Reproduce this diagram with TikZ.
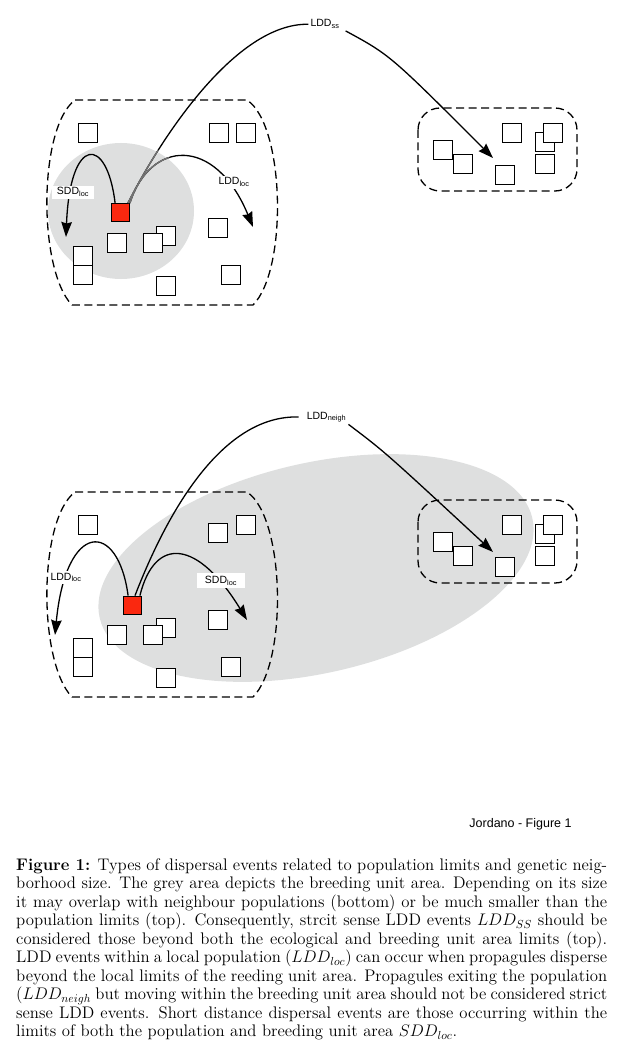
\documentclass[tikz,border=0pt]{standalone}
\usepackage{fontspec}
\usepackage{tikz}
\usetikzlibrary{arrows.meta}
\newfontfamily\labelfont{Liberation Sans}
\definecolor{breedgrey}{RGB}{222,223,223}
\definecolor{seedred}{RGB}{250,40,15}
\tikzset{
    plant/.style = {draw, fill=white, line width=0.8pt, minimum size=19pt, inner sep=0pt},
    mother/.style = {plant, fill=seedred, minimum size=18pt},
    pop-limit/.style = {line width=1.3pt, dash pattern=on 8pt off 4.5pt},
    dispersal/.style = {line width=1.3pt},
    dispersal-end/.style = {dispersal, -{Stealth[length=15pt, width=10.5pt, inset=1.5pt]}},
    event-label/.style = {fill=white, inner sep=2pt, font=\labelfont\fontsize{10.5}{12}\selectfont},
}

\begin{document}
\begin{tikzpicture}[x=1pt, y=-1pt]
\useasboundingbox (0,0) rectangle (624,1059);

% breeding unit areas
\fill[breedgrey] (121,211) ellipse [x radius=73pt, y radius=68pt];
\fill[breedgrey] (316,568) ellipse [x radius=222pt, y radius=105pt, rotate=13];

% population limits, top and bottom
\foreach \dy in {0,392} {
    \draw[pop-limit] (75,100+\dy) -- (247,100+\dy) .. controls (285,125+\dy) and (288,270+\dy) .. (253,305+\dy)
        -- (72,305+\dy) .. controls (38,270+\dy) and (38,128+\dy) .. cycle;
    \draw[pop-limit, rounded corners=22pt] (418,108+\dy) rectangle (577,191+\dy);
}

% individuals
\foreach \dy/\panel in {0/t,392/b} {
    \foreach \x/\y [count=\i] in {88/133, 246/133, 117/243, 166/236, 153/243, 218/228, 83/256, 83/275,
            166/286, 231/275, 443/150, 463/164, 512/133, 505/175, 545/142, 553/133, 545/164}
        \node[plant] (\panel\i) at (\x,\y+\dy) {};
}
\node[plant] (t18) at (219,133) {};
\node[plant] (b18) at (218,533) {};

\node[mother] (m1) at (120.5,212.5) {};
\node[mother] (m2) at (132.5,605) {};

% top: dispersal within the population
\coordinate (sdd-t-end) at (66,237);
\coordinate (ldd-t-end) at (253,227);
\draw[dispersal-end] ([xshift=4pt]m1.north west) .. controls (107,135) and (70,135) .. (sdd-t-end);
\draw[dispersal-end] (m1.north east) .. controls (150,140) and (215,135) .. (ldd-t-end);

% bottom: dispersal within the population
\coordinate (ldd-b-end) at (55,635);
\coordinate (sdd-b-end) at (247,620);
\draw[dispersal-end] ([xshift=5pt]m2.north west) .. controls (118,520) and (66,520) .. (ldd-b-end);
\draw[dispersal-end] ([xshift=-2pt]m2.north east) .. controls (155,535) and (198,540) .. (sdd-b-end);

% labels
\node[event-label, anchor=base] (ss) at (325,27) {LDD\textsubscript{ss}};
\node[event-label, anchor=base, inner xsep=5pt] (sdd-t) at (73,195) {SDD\textsubscript{loc}};
\node[event-label, anchor=base] (ldd-t) at (234,185) {LDD\textsubscript{loc}};
\node[event-label, anchor=base] (ng) at (326.5,419) {LDD\textsubscript{neigh}};
\node[event-label, anchor=base] (ldd-b) at (66,580) {LDD\textsubscript{loc}};
\node[event-label, anchor=base, inner xsep=8pt, inner ysep=3pt] (sdd-b) at (221,583.5) {SDD\textsubscript{loc}};

% long distance events
\coordinate (ss-end) at (493,158);
\coordinate (ng-end) at (493,552);
\draw[dispersal] ([xshift=-2pt]m1.north east) .. controls (160,140) and (235,23) .. (ss.west);
\draw[dispersal-end] ([xshift=4pt]ss.south east) .. controls (390,55) .. (ss-end);
\draw[dispersal] ([xshift=2.5pt]m2.north) .. controls (170,505) and (225,415) .. ([xshift=-6pt]ng.west);
\draw[dispersal-end] (ng.south east) .. controls (385,452) .. (ng-end);

% lines seen through the grey area
\begin{scope}
    \clip (m1.north east) circle (60pt);
    \draw[dispersal, black!55] ([xshift=-2pt]m1.north east) .. controls (160,140) and (235,23) .. (ss.west);
    \draw[dispersal-end, black!55] (m1.north east) .. controls (150,140) and (215,135) .. (ldd-t-end);
\end{scope}

\node[font=\labelfont\fontsize{12.5}{14}\selectfont, anchor=base] (credit) at (520.5,827) {Jordano - Figure 1};

\node[anchor=north west, inner sep=0pt, scale=1.164, transform shape, text width=507.7pt, align=justify,
      font=\fontsize{14.4}{15.9}\selectfont] (caption) at (16,858) {\noindent
\textbf{Figure 1:} Types of dispersal events related to population limits and genetic neig-\linebreak
borhood size. The grey area depicts the breeding unit area. Depending on its size\linebreak
it may overlap with neighbour populations (bottom) or be much smaller than the\linebreak
population limits (top). Consequently, strcit sense LDD events $LDD_{SS}$ should be\linebreak
considered those beyond both the ecological and breeding unit area limits (top).\linebreak
LDD events within a local population ($LDD_{loc}$) can occur when propagules disperse\linebreak
beyond the local limits of the reeding unit area. Propagules exiting the population\linebreak
($LDD_{neigh}$ but moving within the breeding unit area should not be considered strict\linebreak
sense LDD events. Short distance dispersal events are those occurring within the\linebreak
limits of both the population and breeding unit area $SDD_{loc}$.};
\end{tikzpicture}
\end{document}
